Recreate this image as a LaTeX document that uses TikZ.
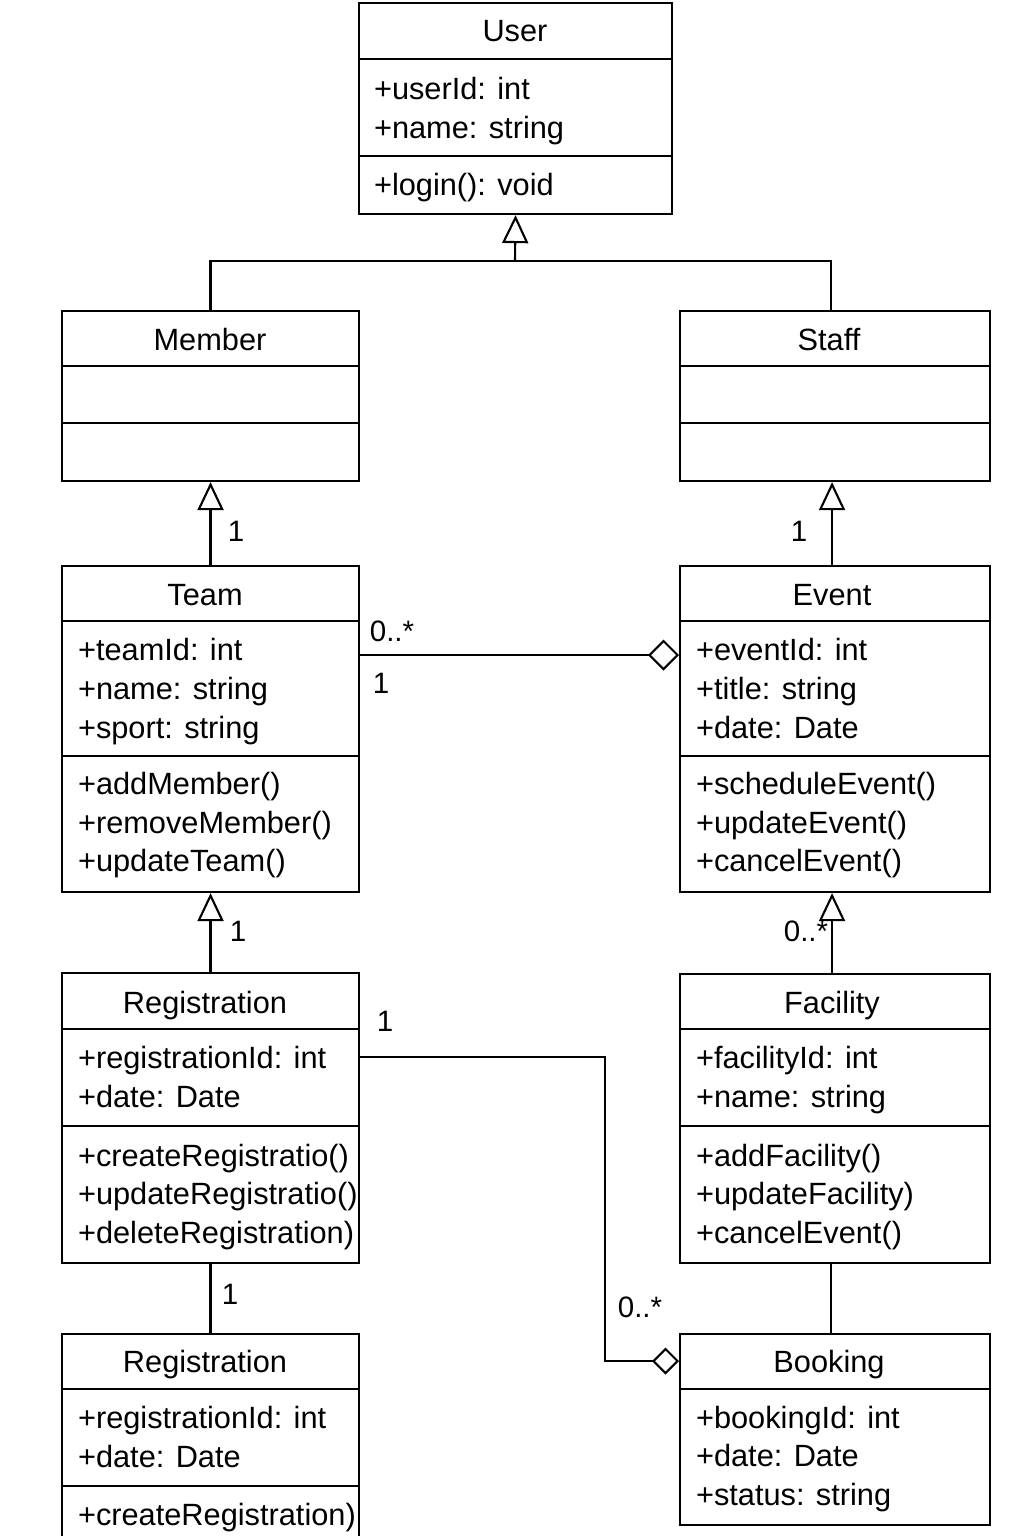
\documentclass[tikz,border=0pt]{standalone}
\usepackage{fontspec}
\setmainfont{Liberation Sans}
\usetikzlibrary{positioning,arrows.meta}

\begin{document}
\begin{tikzpicture}[x=0.1mm, y=-0.1mm, line width=0.6pt,
  cls/.style={draw, anchor=north west, inner sep=0pt},
  ttl/.style={font=\fontsize{8.75}{10}\selectfont, inner sep=0pt, text height=6.3pt, text depth=0pt},
  item/.style={ttl, anchor=west},
  mult/.style={font=\fontsize{8.4}{9}\selectfont, inner sep=0pt},
  gen/.style={-{Triangle[open, length=2.8mm, width=2.6mm]}},
  agg/.style={-{Diamond[open, length=3.1mm, width=3.1mm]}},
  aggsmall/.style={-{Diamond[open, length=2.7mm, width=2.7mm]}}]
\useasboundingbox (0,0) rectangle (1024,1536);
\clip (0,0) rectangle (1024,1536);
\fill[white] (0,0) rectangle (1024,1536);

% User
\node[cls, minimum width=31.3mm, minimum height=21.1mm] (user) at (358,2) {};
\foreach \y in {59,156} \draw (user.west |- 0,\y) -- (user.east |- 0,\y);
\node[ttl] (user-t) at (515,30) {User};
\foreach \s [count=\i] in {+userId: int, +name: string}
  \node[item] (user-a\i) at (373,49+39*\i) {\s};
\node[item] (user-m1) at (373,184) {+login(): void};

% Member, Staff
\node[cls, minimum width=29.7mm, minimum height=17mm] (member) at (61,310) {};
\foreach \y in {366,423} \draw (member.west |- 0,\y) -- (member.east |- 0,\y);
\node[ttl] (member-t) at (210,339) {Member};
\node[cls, minimum width=31mm, minimum height=17mm] (staff) at (679,310) {};
\foreach \y in {366,423} \draw (staff.west |- 0,\y) -- (staff.east |- 0,\y);
\node[ttl] (staff-t) at (829,339) {Staff};

% Team
\node[cls, minimum width=29.7mm, minimum height=32.6mm] (team) at (61,565) {};
\foreach \y in {621,756} \draw (team.west |- 0,\y) -- (team.east |- 0,\y);
\node[ttl] (team-t) at (205,594) {Team};
\foreach \s [count=\i] in {+teamId: int, +name: string, +sport: string}
  \node[item] (team-a\i) at (77,610+39*\i) {\s};
\foreach \s [count=\i] in {+addMember(), +removeMember(), +updateTeam()}
  \node[item] (team-m\i) at (77,745+38.5*\i) {\s};

% Event
\node[cls, minimum width=31mm, minimum height=32.6mm] (event) at (679,565) {};
\foreach \y in {621,756} \draw (event.west |- 0,\y) -- (event.east |- 0,\y);
\node[ttl] (event-t) at (832,594) {Event};
\foreach \s [count=\i] in {+eventId: int, +title: string, +date: Date}
  \node[item] (event-a\i) at (695,610+39*\i) {\s};
\foreach \s [count=\i] in {+scheduleEvent(), +updateEvent(), +cancelEvent()}
  \node[item] (event-m\i) at (695,745+38.5*\i) {\s};

% Registration
\node[cls, minimum width=29.7mm, minimum height=29mm] (reg) at (61,972) {};
\foreach \y in {1029,1126} \draw (reg.west |- 0,\y) -- (reg.east |- 0,\y);
\node[ttl] (reg-t) at (205,1002) {Registration};
\foreach \s [count=\i] in {+registrationId: int, +date: Date}
  \node[item] (reg-a\i) at (77,1018+39*\i) {\s};
\foreach \s [count=\i] in {+createRegistratio(), +updateRegistratio(), +deleteRegistration)}
  \node[item] (reg-m\i) at (77,1116.5+38.5*\i) {\s};

% Facility
\node[cls, minimum width=31mm, minimum height=28.9mm] (facility) at (679,973) {};
\foreach \y in {1029,1126} \draw (facility.west |- 0,\y) -- (facility.east |- 0,\y);
\node[ttl] (facility-t) at (832,1002) {Facility};
\foreach \s [count=\i] in {+facilityId: int, +name: string}
  \node[item] (facility-a\i) at (695,1018+39*\i) {\s};
\foreach \s [count=\i] in {+addFacility(), +updateFacility), +cancelEvent()}
  \node[item] (facility-m\i) at (695,1116.5+38.5*\i) {\s};

% Registration (second)
\node[cls, minimum width=29.7mm, minimum height=23.7mm] (reg2) at (61,1333) {};
\foreach \y in {1389,1486} \draw (reg2.west |- 0,\y) -- (reg2.east |- 0,\y);
\node[ttl] (reg2-t) at (205,1361) {Registration};
\foreach \s [count=\i] in {+registrationId: int, +date: Date}
  \node[item] (reg2-a\i) at (77,1378+39*\i) {\s};
\node[item] (reg2-m1) at (77,1514) {+createRegistration)};

% Booking
\node[cls, minimum width=31mm, minimum height=19.1mm] (booking) at (679,1333) {};
\draw (booking.west |- 0,1389) -- (booking.east |- 0,1389);
\node[ttl] (booking-t) at (829,1361) {Booking};
\foreach \s [count=\i] in {+bookingId: int, +date: Date, +status: string}
  \node[item] (booking-a\i) at (695,1378.5+38.5*\i) {\s};

% connectors
\coordinate (split) at (515,261);
\draw[gen] (split) -- (user.south);
\draw (member.north) |- (split) -| ([xshift=-0.4mm]staff.north);
\draw[gen] (team.north) -- (member.south);
\draw[gen] ([xshift=-0.3mm]event.north) -- ([xshift=-0.3mm]staff.south);
\draw[gen] (reg.north) -- (team.south);
\draw[gen] ([xshift=-0.3mm]facility.north) -- ([xshift=-0.3mm]event.south);
\draw (reg.south) -- (reg2.north);
\draw ([xshift=-0.4mm]facility.south) -- ([xshift=-0.4mm]booking.north);
\draw[agg] (team.east |- 0,655) -- (event.west |- 0,655);
\draw[aggsmall] (reg.east |- 0,1057) -| (605,1361) -- (booking.west |- 0,1361);

% multiplicities
\node[mult] (m-team) at (236,531) {1};
\node[mult] (m-event) at (799,531) {1};
\node[mult] (m-te1) at (392,631) {0..*};
\node[mult] (m-te2) at (381,683) {1};
\node[mult] (m-reg) at (238,931) {1};
\node[mult] (m-fac) at (806,931) {0..*};
\node[mult] (m-rb1) at (385,1021) {1};
\node[mult] (m-reg2) at (230,1294) {1};
\node[mult] (m-rb2) at (640,1307) {0..*};
\end{tikzpicture}
\end{document}
